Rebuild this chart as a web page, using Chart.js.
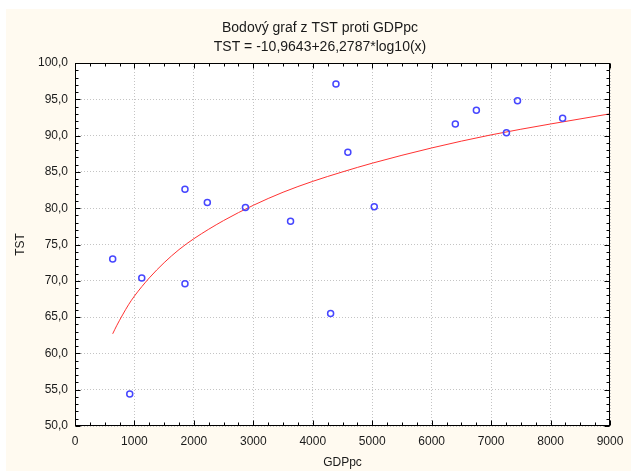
<!DOCTYPE html>
<html>
<head>
<meta charset="utf-8">
<script src="https://cdn.jsdelivr.net/npm/chart.js@4/dist/chart.umd.min.js"></script>
<style>
  html, body { margin: 0; padding: 0; background: #fff; }
  #wrap { width: 631px; height: 471px; }
</style>
</head>
<body>
<div id="wrap"><canvas id="myChart" width="631" height="471"></canvas></div>
<script>
// data
var gdp = [634, 921, 1123, 1850, 1850, 2226, 2867, 3626, 4300, 4390, 4590, 5034, 6398, 6752, 7258, 7444, 8203];
var tst = [73.0, 54.4, 70.4, 82.6, 69.6, 80.8, 80.1, 78.2, 65.5, 97.1, 87.7, 80.2, 91.6, 93.5, 90.4, 94.8, 92.4];

// fitted curve
var fitX = [634, 700, 800, 900, 1000, 1250, 1500, 1750, 2000, 2500, 3000, 3500, 4000, 4500, 5000, 6000, 7000, 8000, 9000];
var fitY = [62.7, 63.8, 65.3, 66.7, 67.9, 70.4, 72.5, 74.3, 75.8, 78.3, 80.4, 82.2, 83.7, 85.0, 86.2, 88.3, 90.1, 91.6, 93.0];

var xTicks = [0, 1000, 2000, 3000, 4000, 5000, 6000, 7000, 8000, 9000];
var yTicks = [50, 55, 60, 65, 70, 75, 80, 85, 90, 95, 100];

var txt = '#1a1a1a';
Chart.defaults.font.family = '"Liberation Sans", Arial, sans-serif';
Chart.defaults.font.size = 12;
Chart.defaults.color = txt;

// backgrounds, frame and the small inner ticks
var frame = {
    id: 'frame',
    beforeDraw: function (chart) {
        var c = chart.ctx, a = chart.chartArea;
        c.save();
        c.fillStyle = '#fff';
        c.fillRect(0, 0, chart.width, chart.height);
        c.fillStyle = '#fffaf0';
        c.fillRect(6, 9, chart.width - 6, chart.height - 9);
        c.fillStyle = '#fff';
        c.fillRect(a.left, a.top, a.right - a.left, a.bottom - a.top);
        c.restore();
    },
    afterDraw: function (chart) {
        var c = chart.ctx, a = chart.chartArea;
        var xs = chart.scales.x, ys = chart.scales.y;
        var L = Math.round(a.left) + 0.5, R = Math.round(a.right) - 0.5;
        var T = Math.round(a.top) + 0.5, B = Math.round(a.bottom) - 0.5;
        c.save();
        c.strokeStyle = '#000';
        c.lineWidth = 1;
        c.beginPath();
        for (var v = 0; v <= 9000; v += 250) {
            var px = Math.round(xs.getPixelForValue(v)) + 0.5;
            var len = v % 1000 === 0 ? 5 : 3;
            c.moveTo(px, B); c.lineTo(px, B - len);
            c.moveTo(px, T); c.lineTo(px, T + len);
        }
        for (var w = 50; w <= 100; w += 1) {
            var py = Math.round(ys.getPixelForValue(w)) + 0.5;
            var ln = w % 5 === 0 ? 5 : 3;
            c.moveTo(L, py); c.lineTo(L + ln, py);
            c.moveTo(R, py); c.lineTo(R - ln, py);
        }
        c.stroke();
        c.strokeRect(L, T, R - L, B - T);
        c.restore();
    }
};

var ctx = document.getElementById('myChart').getContext('2d');
var myChart = new Chart(ctx, {
    type: 'scatter',
    data: {
        datasets: [{
            label: 'TST',
            data: gdp.map(function (x, i) { return { x: x, y: tst[i] }; }),
            pointStyle: 'circle',
            pointRadius: 3,
            pointBorderWidth: 1.5,
            pointBackgroundColor: 'rgba(0,0,0,0)',
            pointBorderColor: 'rgb(70,70,255)',
            showLine: false,
            order: 1
        }, {
            label: 'fit',
            type: 'line',
            data: fitX.map(function (x, i) { return { x: x, y: fitY[i] }; }),
            borderColor: 'rgb(255,50,50)',
            borderWidth: 1,
            pointRadius: 0,
            cubicInterpolationMode: 'monotone',
            fill: false,
            order: 2
        }]
    },
    options: {
        responsive: false,
        animation: false,
        devicePixelRatio: 1,
        layout: { padding: { left: 9, right: 0, top: 0, bottom: 0 } },
        plugins: {
            legend: { display: false },
            tooltip: { enabled: false },
            title: {
                display: true,
                text: 'Bodový graf z TST proti GDPpc',
                color: txt,
                font: { size: 14, weight: 'normal' },
                padding: { top: 20, bottom: 1.5 }
            },
            subtitle: {
                display: true,
                text: 'TST = -10,9643+26,2787*log10(x)',
                color: txt,
                font: { size: 14, weight: 'normal' },
                padding: { top: 0, bottom: 7.9 }
            }
        },
        scales: {
            x: {
                type: 'linear',
                min: 0,
                max: 9000,
                afterBuildTicks: function (s) { s.ticks = xTicks.map(function (v) { return { value: v }; }); },
                afterFit: function (s) { s.height = 45; s.paddingRight = 21; },
                ticks: {
                    padding: 8,
                    maxRotation: 0,
                    callback: function (v) { return String(v); }
                },
                grid: { color: '#c4c4c4', drawTicks: false },
                border: { display: false, dash: [1, 2] },
                title: { display: true, text: 'GDPpc', padding: { top: 0, bottom: 1 } }
            },
            y: {
                min: 50,
                max: 100,
                afterBuildTicks: function (s) { s.ticks = yTicks.map(function (v) { return { value: v }; }); },
                afterFit: function (s) { s.width = 66; },
                ticks: {
                    padding: 7,
                    callback: function (v) { return v.toFixed(1).replace('.', ','); }
                },
                grid: { color: '#c4c4c4', drawTicks: false },
                border: { display: false, dash: [1, 2] },
                title: { display: true, text: 'TST', padding: { top: 4.3, bottom: 0 } }
            }
        }
    },
    plugins: [frame]
});
</script>
</body>
</html>
